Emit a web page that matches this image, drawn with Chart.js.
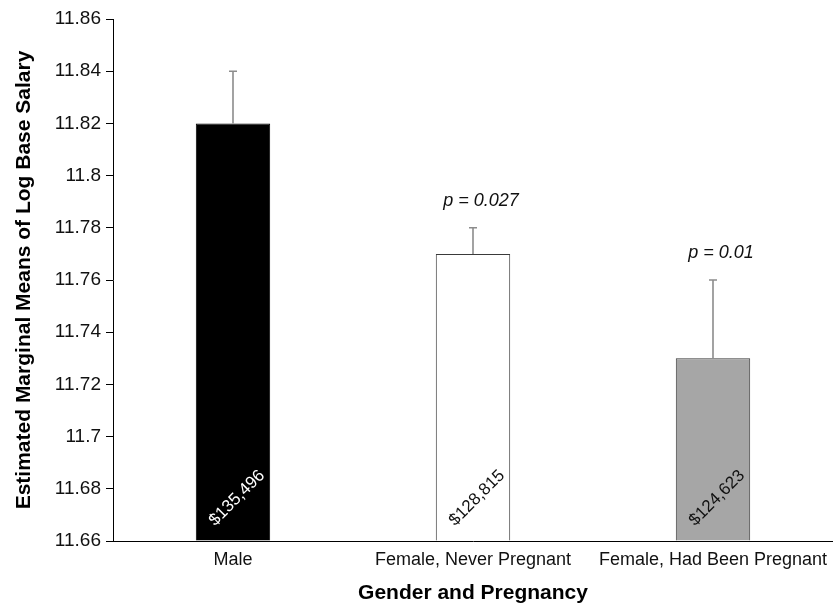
<!DOCTYPE html>
<html>
<head>
<meta charset="utf-8">
<script src="https://cdn.jsdelivr.net/npm/chart.js@4.4.1/dist/chart.umd.min.js"></script>
<style>
  html, body { margin: 0; padding: 0; background: #ffffff; }
  #wrap { position: relative; width: 833px; height: 606px; }
</style>
</head>
<body>
<div id="wrap"><canvas id="c" width="833" height="606"></canvas></div>
<script>
const categories = ['Male', 'Female, Never Pregnant', 'Female, Had Been Pregnant'];
const means = [11.82, 11.77, 11.73];
const errorUpper = [11.84, 11.78, 11.76];
const salaryLabels = ['$135,496', '$128,815', '$124,623'];
const pLabels = ['', 'p = 0.027', 'p = 0.01'];
const yTickValues = [11.66, 11.68, 11.70, 11.72, 11.74, 11.76, 11.78, 11.80, 11.82, 11.84, 11.86];
const yTickLabels = ['11.66', '11.68', '11.7', '11.72', '11.74', '11.76', '11.78', '11.8', '11.82', '11.84', '11.86'];
const barColors = ['#000000', '#ffffff', '#a6a6a6'];
const barBorders = ['#000000', '#3a3a3a', '#3a3a3a'];
const yAxisTitle = 'Estimated Marginal Means of Log Base Salary';
const xAxisTitle = 'Gender and Pregnancy';

const FONT = '"Liberation Sans", Arial, Helvetica, sans-serif';

const annotationPlugin = {
  id: 'annot',
  afterDatasetsDraw(chart) {
    const ctx = chart.ctx;
    const meta = chart.getDatasetMeta(0);
    const y = chart.scales.y;
    const area = chart.chartArea;
    ctx.save();
    // x axis line slightly extends left of the y axis
    ctx.strokeStyle = '#000';
    ctx.lineWidth = 1;
    ctx.beginPath();
    ctx.moveTo(area.left - 4, area.bottom + 0.5);
    ctx.lineTo(area.left, area.bottom + 0.5);
    ctx.stroke();
    meta.data.forEach((bar, i) => {
      // error bar
      const yTop = y.getPixelForValue(errorUpper[i]);
      const yVal = y.getPixelForValue(means[i]);
      ctx.strokeStyle = '#8c8c8c';
      ctx.lineWidth = 1.6;
      ctx.beginPath();
      ctx.moveTo(bar.x, yVal);
      ctx.lineTo(bar.x, yTop);
      ctx.moveTo(bar.x - 4, yTop);
      ctx.lineTo(bar.x + 4, yTop);
      ctx.stroke();
      // p label
      if (pLabels[i]) {
        ctx.fillStyle = '#111';
        ctx.font = 'italic 18px ' + FONT;
        ctx.textAlign = 'center';
        ctx.textBaseline = 'middle';
        ctx.fillText(pLabels[i], bar.x + 8, yTop - 27);
      }
      // salary label rotated
      ctx.save();
      ctx.translate(bar.x + 4, area.bottom - 43);
      ctx.rotate(-45 * Math.PI / 180);
      ctx.fillStyle = i === 0 ? '#ffffff' : '#111';
      ctx.font = '17px ' + FONT;
      ctx.textAlign = 'center';
      ctx.textBaseline = 'middle';
      ctx.fillText(salaryLabels[i], 0, 0);
      ctx.restore();
    });
    ctx.restore();
  }
};

new Chart(document.getElementById('c'), {
  type: 'bar',
  data: {
    labels: categories,
    datasets: [{
      data: means,
      base: yTickValues[0],
      backgroundColor: barColors,
      borderColor: barBorders,
      borderWidth: 1,
      borderSkipped: 'start',
      categoryPercentage: 1,
      barPercentage: 0.31
    }]
  },
  options: {
    responsive: false,
    animation: false,
    devicePixelRatio: 1,
    layout: { padding: { top: 19, right: 0, left: 0, bottom: 0 } },
    plugins: {
      legend: { display: false },
      tooltip: { enabled: false }
    },
    scales: {
      x: {
        grid: { display: false },
        border: { display: true, color: '#000', width: 1 },
        ticks: {
          color: '#111',
          font: { family: FONT, size: 18 },
          maxRotation: 0,
          autoSkip: false,
          padding: 0
        },
        title: {
          display: true,
          text: xAxisTitle,
          color: '#000',
          font: { family: FONT, size: 21, weight: 'bold' },
          padding: { top: 6, bottom: 0 }
        },
        afterFit(scale) { scale.height = 65; }
      },
      y: {
        min: yTickValues[0],
        max: yTickValues[yTickValues.length - 1],
        afterBuildTicks(scale) {
          scale.ticks = yTickValues.map(v => ({ value: v }));
        },
        grid: {
          display: true,
          drawOnChartArea: false,
          drawTicks: true,
          tickLength: 7,
          color: '#000'
        },
        border: { display: true, color: '#000', width: 1 },
        ticks: {
          color: '#111',
          font: { family: FONT, size: 19 },
          padding: 5,
          callback(value, index) { return yTickLabels[index]; }
        },
        title: {
          display: true,
          text: yAxisTitle,
          color: '#000',
          font: { family: FONT, size: 21, weight: 'bold' },
          padding: { top: 12, bottom: 0 }
        },
        afterFit(scale) { scale.width = 113; }
      }
    }
  },
  plugins: [annotationPlugin]
});
</script>
</body>
</html>
